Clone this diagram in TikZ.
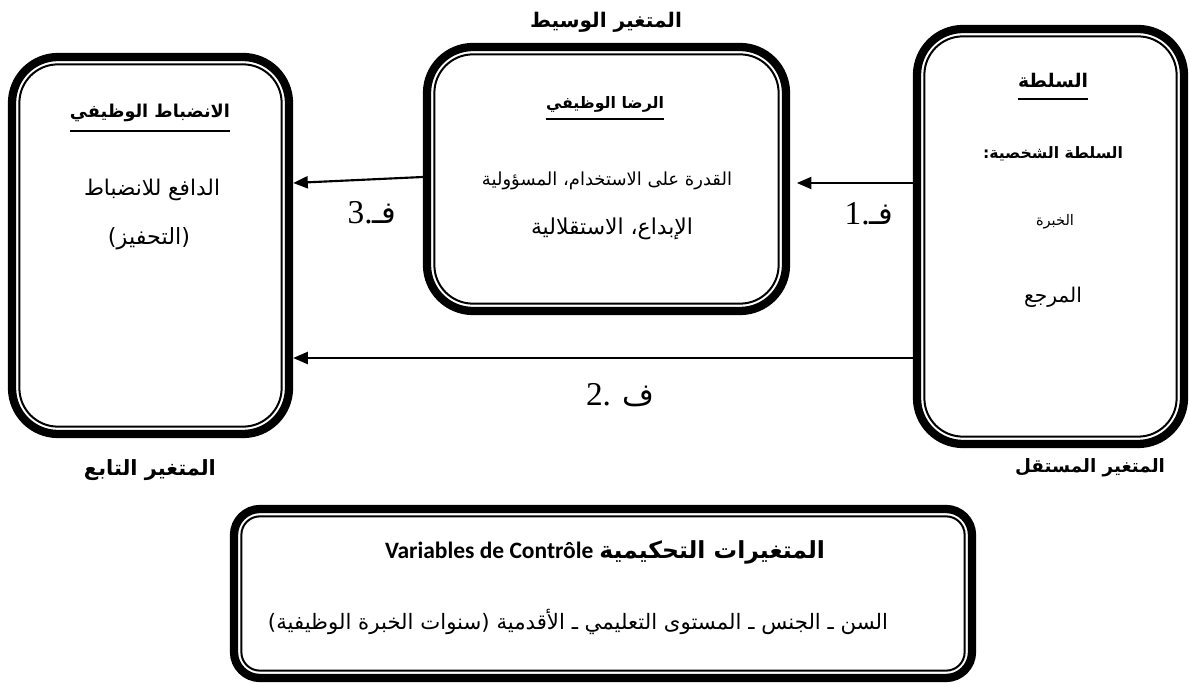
\documentclass[tikz,border=0pt]{standalone}
\usepackage{fontspec}
\usepackage{graphicx}
\TeXXeTstate=1
\setmainfont{Liberation Serif}
\newfontfamily\arabicfont[Script=Arabic]{DejaVu Sans}
\newfontfamily\calib{Carlito}
\usetikzlibrary{arrows.meta,fit}
\newdimen\artw
\newcommand\ar[2]{\artw=#1pt\artw=0.75\artw\resizebox{\artw}{!}{\arabicfont #2}}
\newcommand\arb[2]{\artw=#1pt\artw=0.75\artw\resizebox{\artw}{!}{\arabicfont\bfseries #2}}
\newcommand\dblbox[6]{%
  \node[thickb, rounded corners=#6*0.75pt, fit={(#2,#3) (#4,#5)}] (#1) {};
  \draw[thinb, rounded corners={(#6-7.5)*0.75pt}] ([shift={(11.5,11.5)}]#1.north west) rectangle ([shift={(-11.5,-11.5)}]#1.south east);}
\tikzset{
  txt/.style={inner sep=0pt, anchor=center},
  thickb/.style={draw, line width=6.2pt, inner sep=0pt},
  thinb/.style={line width=1.5pt},
  uline/.style={line width=1.5pt},
  arr/.style={line width=1.6pt, -{Triangle[length=11pt,width=9pt]}},
  lab/.style={inner sep=0pt, anchor=center, font=\fontsize{25}{29}\selectfont},
}
\begin{document}
\begin{tikzpicture}[x=0.75pt,y=-0.75pt]
\useasboundingbox (0,0) rectangle (1190,684);
% boxes
\dblbox{R}{917}{29}{1184}{444}{46}
\dblbox{M}{427}{47}{786}{311}{46}
\dblbox{L}{12}{57}{289}{434}{46}
\dblbox{B}{234}{509}{972}{678}{26}
% helper y levels
\coordinate (y177) at (0,177);
\coordinate (y183) at (0,183);
\coordinate (y358) at (0,358);
\coordinate (y99) at (0,99);
\coordinate (y119) at (0,119);
\coordinate (y131) at (0,131);
% titles
\node[txt] (tmid) at (606,22) {\arb{152}{\beginR المتغير الوسيط\endR}};
\node[txt] (tind) at (1090,468) {\arb{150}{\beginR المتغير المستقل\endR}};
\node[txt] (tdep) at (150,470) {\arb{132}{\beginR المتغير التابع\endR}};
% right box
\node[txt] (r1) at (1053,80) {\arb{70}{\beginR السلطة\endR}};
\draw[uline] (r1.west |- y99) -- (r1.east |- y99);
\node[txt] (r2) at (1053,154) {\arb{140}{\beginR السلطة الشخصية:\endR}};
\node[txt] (r3) at (1055,222) {\ar{38}{\beginR الخبرة\endR}};
\node[txt] (r4) at (1053,297) {\ar{58}{\beginR المرجع\endR}};
% middle box
\node[txt] (m1) at (605,104) {\arb{118}{\beginR الرضا الوظيفي\endR}};
\draw[uline] (m1.west |- y119) -- (m1.east |- y119);
\node[txt] (m2) at (607,181) {\ar{250}{\beginR القدرة على الاستخدام، المسؤولية\endR}};
\node[txt] (m3) at (612,229) {\ar{162}{\beginR الإبداع، الاستقلالية\endR}};
% left box
\node[txt] (l1) at (150,113) {\arb{160}{\beginR الانضباط الوظيفي\endR}};
\draw[uline] (l1.west |- y131) -- (l1.east |- y131);
\node[txt] (l2) at (152,190) {\ar{136}{\beginR الدافع للانضباط\endR}};
\node[txt] (l3) at (149,239) {\ar{82}{\beginR (التحفيز)\endR}};
% bottom box
\node[txt] (b1) at (605,552) {\artw=440pt\artw=0.75\artw\resizebox{\artw}{!}{{\calib\bfseries Variables de Contrôle} {\arabicfont\bfseries\beginR المتغيرات التحكيمية\endR}}};
\node[txt] (b2) at (578,622) {\ar{620}{\beginR السن ـ الجنس ـ المستوى التعليمي ـ الأقدمية (سنوات الخبرة الوظيفية)\endR}};
% arrows
\draw[arr, shorten >=5pt] (R.west |- y183) -- (M.east |- y183);
\draw[arr] (M.west |- y177) -- (L.east |- y183);
\draw[arr] (R.west |- y358) -- (L.east |- y358);
% labels
\node[lab] (f1) at (869,214) {1.{\arabicfont\fontsize{23}{26}\selectfont\beginR فـ\endR}};
\node[lab] (f3) at (372,213) {3.{\arabicfont\fontsize{23}{26}\selectfont\beginR فـ\endR}};
\node[lab] (f2) at (620,395) {2. {\arabicfont\fontsize{23}{26}\selectfont\beginR ف\endR}};
\end{tikzpicture}
\end{document}
